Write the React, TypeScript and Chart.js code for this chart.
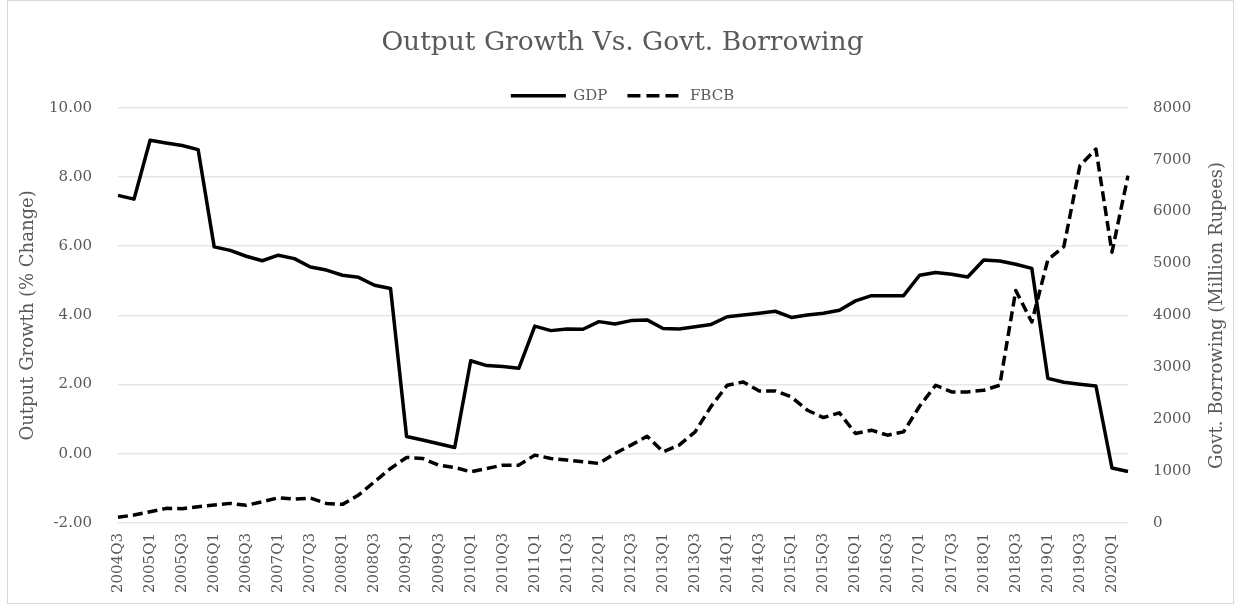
import React, { useEffect, useRef } from 'react';
import { Chart, registerables } from 'chart.js';

Chart.register(...registerables);

const quarters = [
  '2004Q3', '2004Q4',
  '2005Q1', '2005Q2', '2005Q3', '2005Q4',
  '2006Q1', '2006Q2', '2006Q3', '2006Q4',
  '2007Q1', '2007Q2', '2007Q3', '2007Q4',
  '2008Q1', '2008Q2', '2008Q3', '2008Q4',
  '2009Q1', '2009Q2', '2009Q3', '2009Q4',
  '2010Q1', '2010Q2', '2010Q3', '2010Q4',
  '2011Q1', '2011Q2', '2011Q3', '2011Q4',
  '2012Q1', '2012Q2', '2012Q3', '2012Q4',
  '2013Q1', '2013Q2', '2013Q3', '2013Q4',
  '2014Q1', '2014Q2', '2014Q3', '2014Q4',
  '2015Q1', '2015Q2', '2015Q3', '2015Q4',
  '2016Q1', '2016Q2', '2016Q3', '2016Q4',
  '2017Q1', '2017Q2', '2017Q3', '2017Q4',
  '2018Q1', '2018Q2', '2018Q3', '2018Q4',
  '2019Q1', '2019Q2', '2019Q3', '2019Q4',
  '2020Q1', '2020Q2',
];

const gdp = [
  7.47, 7.36,
  9.06, 8.98, 8.91, 8.79,
  5.98, 5.88, 5.71, 5.58,
  5.74, 5.64, 5.40, 5.31,
  5.16, 5.10, 4.87, 4.78,
  0.50, 0.40, 0.29, 0.18,
  2.69, 2.55, 2.52, 2.47,
  3.69, 3.56, 3.61, 3.60,
  3.82, 3.75, 3.85, 3.87,
  3.62, 3.61, 3.67, 3.74,
  3.96, 4.01, 4.06, 4.12,
  3.94, 4.01, 4.06, 4.15,
  4.42, 4.57, 4.57, 4.57,
  5.16, 5.24, 5.19, 5.11,
  5.60, 5.57, 5.48, 5.36,
  2.18, 2.07, 2.01, 1.96,
  -0.41, -0.51,
];

const fbcb = [
  110, 154,
  218, 282, 275, 314,
  346, 378, 340, 410,
  487, 460, 480, 378,
  359, 538, 795, 1051,
  1263, 1244, 1115, 1071,
  987, 1051, 1115, 1115,
  1308, 1244, 1212, 1179,
  1147, 1340, 1500, 1673,
  1372, 1500, 1756, 2250,
  2654, 2718, 2545, 2545,
  2429, 2173, 2032, 2122,
  1724, 1788, 1692, 1756,
  2250, 2654, 2526, 2526,
  2558, 2654, 4481, 3872,
  5071, 5327, 6885, 7205,
  5218, 6692,
];

const leftTicks = { min: -2, max: 10, step: 2 };
const rightTicks = { min: 0, max: 8000, step: 1000 };

const TITLE = 'Output Growth Vs. Govt. Borrowing';
const LEFT_TITLE = 'Output Growth (% Change)';
const RIGHT_TITLE = 'Govt. Borrowing (Million Rupees)';

const FONT = "'DejaVu Serif', serif";
const TEXT = '#595959';
const GRID = '#e6e6e6';

const W = 1235;
const H = 605;
const AREA = { left: 118, right: 1128, top: 107, bottom: 523 };
const LEGEND_H = 39.5;
const LINE_DASH = [10, 5];
const LEGEND_DASH = [13, 6];

export default function App() {
  const ref = useRef<HTMLCanvasElement | null>(null);

  useEffect(() => {
    const canvas = ref.current;
    if (!canvas) return;

    const decor = {
      id: 'decor',
      afterInit(chart: any) {
        const lg = chart.legend;
        if (lg && !lg.__patched) {
          const orig = lg.fit.bind(lg);
          lg.fit = () => {
            orig();
            lg.height = LEGEND_H;
          };
          lg.__patched = true;
        }
      },
      beforeDraw(chart: any) {
        const ctx = chart.ctx;
        ctx.save();
        ctx.fillStyle = '#ffffff';
        ctx.fillRect(0, 0, W, H);
        ctx.strokeStyle = '#d9d9d9';
        ctx.lineWidth = 1;
        ctx.strokeRect(7.5, 0.5, W - 9, H - 2);
        ctx.restore();
      },
      afterDraw(chart: any) {
        const ctx = chart.ctx;
        const area = chart.chartArea;
        ctx.save();
        ctx.fillStyle = TEXT;
        ctx.font = `18px ${FONT}`;
        ctx.textAlign = 'center';
        ctx.textBaseline = 'middle';
        ctx.translate(1217, (area.top + area.bottom) / 2);
        ctx.rotate(-Math.PI / 2);
        ctx.fillText(RIGHT_TITLE, 0, 0);
        ctx.restore();
      },
    };

    const chart = new Chart(canvas, {
      type: 'line',
      data: {
        labels: quarters,
        datasets: [
          {
            label: 'GDP',
            data: gdp,
            yAxisID: 'y',
            borderColor: '#000000',
            backgroundColor: '#000000',
            borderWidth: 3.5,
            pointRadius: 0,
            fill: false,
            tension: 0,
            borderJoinStyle: 'round',
          },
          {
            label: 'FBCB',
            data: fbcb,
            yAxisID: 'y1',
            borderColor: '#000000',
            backgroundColor: '#000000',
            borderWidth: 3.5,
            borderDash: LINE_DASH,
            pointRadius: 0,
            fill: false,
            tension: 0,
            borderJoinStyle: 'round',
          },
        ],
      },
      options: {
        responsive: false,
        animation: false,
        layout: { padding: { left: 14, right: 4, top: 0, bottom: 0 } },
        plugins: {
          title: {
            display: true,
            text: TITLE,
            color: TEXT,
            font: { family: FONT, size: 26.5, weight: 'normal' },
            padding: { top: 27, bottom: 9.5 },
          },
          legend: {
            display: true,
            position: 'top',
            labels: {
              color: TEXT,
              font: { family: FONT, size: 15 },
              usePointStyle: true,
              pointStyle: 'line',
              pointStyleWidth: 55,
              padding: 20,
              generateLabels: (c: any) => {
                const items = (Chart.defaults.plugins.legend.labels as any).generateLabels(c);
                items.forEach((it: any, i: number) => {
                  it.lineDash = c.data.datasets[i].borderDash ? LEGEND_DASH : [];
                  it.lineWidth = 3.5;
                  it.lineCap = 'butt';
                  it.strokeStyle = '#000000';
                });
                return items;
              },
            },
          },
          tooltip: { enabled: false },
        },
        scales: {
          x: {
            type: 'category',
            grid: { display: false },
            border: { display: false },
            ticks: {
              autoSkip: false,
              minRotation: 90,
              maxRotation: 90,
              padding: 2,
              color: TEXT,
              font: { family: FONT, size: 15 },
              callback: (_v: any, i: number) => (i % 2 === 0 ? quarters[i] : ''),
            },
            afterFit: (s: any) => {
              s.height = H - AREA.bottom;
            },
          },
          y: {
            position: 'left',
            min: leftTicks.min,
            max: leftTicks.max,
            grid: { color: GRID, drawTicks: false, lineWidth: 1.5 },
            border: { display: false },
            ticks: {
              stepSize: leftTicks.step,
              padding: 26,
              color: TEXT,
              font: { family: FONT, size: 15 },
              callback: (v: any) => Number(v).toFixed(2),
            },
            title: {
              display: true,
              text: LEFT_TITLE,
              color: TEXT,
              font: { family: FONT, size: 18 },
            },
            afterFit: (s: any) => {
              s.width = AREA.left - 14;
            },
          },
          y1: {
            position: 'right',
            min: rightTicks.min,
            max: rightTicks.max,
            grid: { drawOnChartArea: false, drawTicks: false },
            border: { display: false },
            ticks: {
              stepSize: rightTicks.step,
              padding: 25,
              color: TEXT,
              font: { family: FONT, size: 15 },
              callback: (v: any) => String(v),
            },
            afterFit: (s: any) => {
              s.width = W - 4 - AREA.right;
            },
          },
        },
      },
      plugins: [decor],
    });

    return () => chart.destroy();
  }, []);

  return (
    <div style={{ position: 'absolute', left: 0, top: 0, width: W, height: H }}>
      <canvas ref={ref} width={W} height={H} style={{ display: 'block', width: W, height: H }} />
    </div>
  );
}
